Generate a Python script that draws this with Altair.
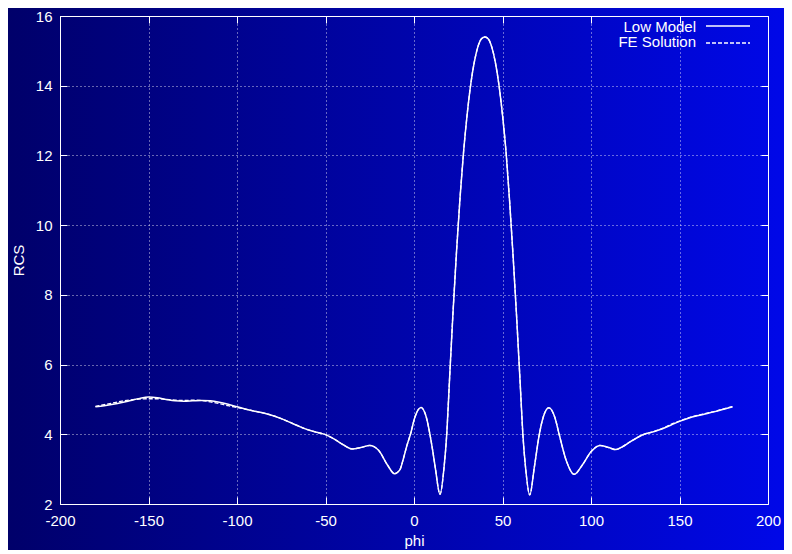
import altair as alt
import pandas as pd

# ---------------- data ----------------
phi = [-180, -175, -170, -165, -160, -155, -150, -145, -140, -135, -130, -125,
       -120, -115, -110, -105, -100, -95, -90, -85, -80, -75, -70, -65, -60,
       -55, -50, -45, -40, -35, -30, -25, -20, -15, -11, -8, -6, -4, -2, 0.5,
       4, 7, 9, 10.5, 12, 14.7, 17, 18.5, 20, 22, 24, 26, 28, 30, 32, 34, 36,
       38, 40, 42, 44, 46, 48, 50, 52, 54, 56, 58, 60, 61.5, 63, 65.4, 68,
       70.8, 73, 76.2, 79.6, 82, 86, 90.5, 95, 100, 105, 110, 114, 118, 122,
       126, 130, 135, 140, 145, 150, 155, 160, 165, 170, 175, 180]

low_model = [4.79, 4.82, 4.86, 4.91, 4.97, 5.03, 5.07, 5.05, 5.00, 4.96, 4.95,
             4.96, 4.97, 4.96, 4.92, 4.86, 4.79, 4.72, 4.66, 4.61, 4.54, 4.45,
             4.34, 4.23, 4.13, 4.06, 3.99, 3.86, 3.70, 3.58, 3.62, 3.68, 3.54,
             3.12, 2.87, 2.98, 3.30, 3.68, 4.00, 4.49, 4.77, 4.48, 4.00, 3.55,
             3.05, 2.28, 3.06, 4.00, 5.50, 7.46, 9.22, 10.78, 12.10, 13.16,
             14.02, 14.66, 15.10, 15.34, 15.40, 15.34, 15.10, 14.66, 14.02,
             13.16, 12.10, 10.70, 9.10, 7.35, 5.45, 4.00, 3.06, 2.26, 3.06,
             4.00, 4.49, 4.76, 4.48, 4.00, 3.25, 2.85, 3.11, 3.50, 3.68, 3.62,
             3.56, 3.65, 3.78, 3.90, 4.00, 4.07, 4.15, 4.26, 4.37, 4.46, 4.53,
             4.59, 4.65, 4.72, 4.79]

fe_solution = [4.80, 4.85, 4.90, 4.95, 4.99, 5.01, 5.02, 5.02, 5.00, 4.98, 4.97,
               4.98, 4.97, 4.93, 4.88, 4.82, 4.77, 4.72, 4.66, 4.61, 4.54, 4.45,
               4.34, 4.23, 4.13, 4.06, 3.99, 3.86, 3.70, 3.58, 3.62, 3.68, 3.54,
               3.12, 2.87, 2.98, 3.30, 3.68, 4.00, 4.49, 4.77, 4.48, 4.00, 3.55,
               3.05, 2.28, 3.06, 4.00, 5.50, 7.46, 9.22, 10.78, 12.10, 13.16,
               14.02, 14.66, 15.10, 15.34, 15.40, 15.34, 15.10, 14.66, 14.02,
               13.16, 12.10, 10.70, 9.10, 7.35, 5.45, 4.00, 3.06, 2.26, 3.06,
               4.00, 4.49, 4.76, 4.48, 4.00, 3.25, 2.85, 3.11, 3.50, 3.68, 3.62,
               3.56, 3.65, 3.78, 3.90, 4.00, 4.07, 4.16, 4.28, 4.38, 4.47, 4.54,
               4.60, 4.66, 4.73, 4.80]

series_names = ["Low Model", "FE Solution"]
x_ticks = [-200, -150, -100, -50, 0, 50, 100, 150, 200]
y_ticks = [2, 4, 6, 8, 10, 12, 14, 16]
x_title = "phi"
y_title = "RCS"

# ---------------- layout ----------------
W, H = 708, 488
PL, PT, PR, PB = 52, 8, 16, 46
FONT = "Liberation Sans"
FS = 15

df = pd.DataFrame({
    "phi": phi + phi,
    "RCS": low_model + fe_solution,
    "series": [series_names[0]] * len(phi) + [series_names[1]] * len(phi),
})

xs = alt.Scale(domain=[-200, 200], nice=False, zero=False)
ys = alt.Scale(domain=[2, 16], nice=False, zero=False)

gradient = alt.LinearGradient(
    gradient="linear", x1=0, y1=0, x2=1, y2=0,
    stops=[alt.GradientStop(offset=0, color="#00006a"),
           alt.GradientStop(offset=1, color="#0008e8")],
)

one = pd.DataFrame({"k": [0]})

bg = alt.Chart(one).mark_rect(fill=gradient).encode(
    x=alt.value(-PL), x2=alt.value(W + PR),
    y=alt.value(-PT), y2=alt.value(H + PB),
)

plain_label = "datum.value + ''"

main_x_axis = alt.Axis(
    orient="bottom", values=x_ticks, title=x_title, grid=True,
    gridColor="#ffffff", gridDash=[1, 3], gridOpacity=0.8, gridWidth=1,
    ticks=False, tickSize=0, domain=False, labelExpr=plain_label,
    labelColor="white", labelFont=FONT, labelFontSize=FS, labelPadding=9,
    labelFlush=False, labelOverlap=False,
    titleColor="white", titleFont=FONT, titleFontSize=FS,
    titleFontWeight="normal", titlePadding=5, zindex=1,
)
main_y_axis = alt.Axis(
    orient="left", values=y_ticks, title=y_title, grid=True,
    gridColor="#ffffff", gridDash=[1, 3], gridOpacity=0.8, gridWidth=1,
    ticks=False, tickSize=0, domain=False, labelExpr=plain_label,
    labelColor="white", labelFont=FONT, labelFontSize=FS, labelPadding=8,
    labelFlush=False, labelOverlap=False,
    titleColor="white", titleFont=FONT, titleFontSize=FS,
    titleFontWeight="normal", titlePadding=9, zindex=1,
)


def tick_axis(orient, offset, values):
    return alt.Axis(
        orient=orient, offset=offset, values=values, labels=False,
        ticks=True, tickSize=7, tickColor="white", tickWidth=1,
        domain=True, domainColor="white", domainWidth=1,
        grid=False, title=None, zindex=1,
    )


fe_line = alt.Chart(df).transform_filter(
    alt.datum.series == series_names[1]
).mark_line(color="white", strokeWidth=1.3, strokeDash=[4, 2],
            interpolate="monotone").encode(
    x=alt.X("phi:Q", scale=xs, axis=main_x_axis),
    y=alt.Y("RCS:Q", scale=ys, axis=main_y_axis),
)

low_line = alt.Chart(df).transform_filter(
    alt.datum.series == series_names[0]
).mark_line(color="white", strokeWidth=1.5, interpolate="monotone").encode(
    x=alt.X("phi:Q", scale=xs, axis=None),
    y=alt.Y("RCS:Q", scale=ys, axis=None),
)

ticks_a = alt.Chart(df).mark_line(strokeOpacity=0).encode(
    x=alt.X("phi:Q", scale=xs, axis=tick_axis("top", -H, x_ticks)),
    y=alt.Y("RCS:Q", scale=ys, axis=tick_axis("right", -W, y_ticks)),
)
ticks_b = alt.Chart(df).mark_line(strokeOpacity=0).encode(
    x=alt.X("phi:Q", scale=xs, axis=tick_axis("bottom", -H, x_ticks)),
    y=alt.Y("RCS:Q", scale=ys, axis=tick_axis("left", -W, y_ticks)),
)

# key (gnuplot style: text left of the line sample)
key_layers = []
key_rows = [(series_names[0], 10.5, 10, None), (series_names[1], 26, 27, [4, 2])]
for name, ty, ly, dash in key_rows:
    key_layers.append(
        alt.Chart(one).mark_text(text=name, align="right", baseline="middle",
                                 color="white", font=FONT, fontSize=FS).encode(
            x=alt.value(636), y=alt.value(ty))
    )
    rule_kwargs = dict(color="white", strokeWidth=1.3)
    if dash:
        rule_kwargs["strokeDash"] = dash
    key_layers.append(
        alt.Chart(one).mark_rule(**rule_kwargs).encode(
            x=alt.value(646), x2=alt.value(690), y=alt.value(ly))
    )

chart = alt.layer(
    bg, fe_line, low_line, ticks_a, ticks_b, *key_layers
).resolve_axis(
    x="independent", y="independent"
).properties(
    width=W, height=H,
    autosize=alt.AutoSizeParams(type="none"),
    padding={"left": PL, "top": PT, "right": PR, "bottom": PB},
    background="#0000a0",
).configure_view(stroke=None)

chart.save("out.html", embed_options={"renderer": "svg", "actions": False})
